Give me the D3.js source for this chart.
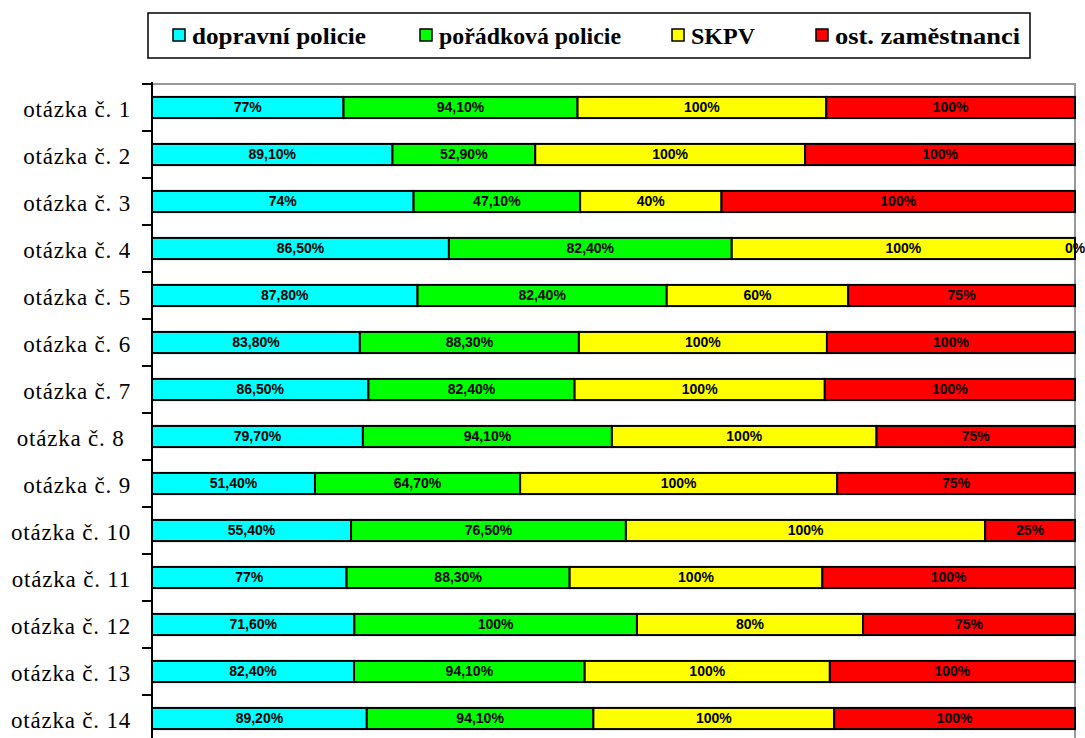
<!DOCTYPE html>
<html><head><meta charset="utf-8">
<script src="https://cdn.jsdelivr.net/npm/d3@7"></script>
<style>body{margin:0;background:#fff}svg{display:block}</style>
</head><body>
<svg id="c" width="1085" height="738"></svg>
<script>
const categories = ["otázka č. 1","otázka č. 2","otázka č. 3","otázka č. 4","otázka č. 5","otázka č. 6","otázka č. 7","otázka č. 8 ","otázka č. 9","otázka č. 10","otázka č. 11","otázka č. 12","otázka č. 13","otázka č. 14"];
const seriesNames = ["dopravní policie","pořádková policie","SKPV","ost. zaměstnanci"];
const seriesColors = ["#00FFFF","#00FF00","#FFFF00","#FF0000"];
const dopravni = [77, 89.1, 74, 86.5, 87.8, 83.8, 86.5, 79.7, 51.4, 55.4, 77, 71.6, 82.4, 89.2];
const poradkova = [94.1, 52.9, 47.1, 82.4, 82.4, 88.3, 82.4, 94.1, 64.7, 76.5, 88.3, 100, 94.1, 94.1];
const skpv = [100, 100, 40, 100, 60, 100, 100, 100, 100, 100, 100, 80, 100, 100];
const ostatni = [100, 100, 100, 0, 75, 100, 100, 75, 75, 25, 100, 75, 100, 100];
const seriesValues = [dopravni, poradkova, skpv, ostatni];

(function () {
// pick an installed serif face
function pickFont(cands, weight) {
  const ctx = document.createElement("canvas").getContext("2d");
  const s = "otázka SKPV WwMmIil 0123";
  const base = {};
  ["monospace", "sans-serif"].forEach(b => { ctx.font = `${weight} 40px ${b}`; base[b] = ctx.measureText(s).width; });
  for (const c of cands) {
    let ok = true;
    for (const b of ["monospace", "sans-serif"]) {
      ctx.font = `${weight} 40px "${c}", ${b}`;
      if (Math.abs(ctx.measureText(s).width - base[b]) < 0.01) ok = false;
    }
    if (ok) return `"${c}", serif`;
  }
  return "serif";
}
const cands = ["Liberation Serif", "Times New Roman", "Tinos", "Nimbus Roman", "DejaVu Serif", "Noto Serif"];
const serif = pickFont(cands, "normal");
const serifBold = pickFont(cands, "bold");

const svg = d3.select("#c");
const mLeft = 152, mRight = 1075, mTop = 84, mBottom = 742;

const rows = categories.map((c, i) => {
  const o = {cat: c};
  seriesNames.forEach((s, j) => o[s] = seriesValues[j][i]);
  return o;
});
const stack = d3.stack().keys(seriesNames).offset(d3.stackOffsetExpand);
const layers = stack(rows);

const x = d3.scaleLinear().domain([0, 1]).range([mLeft, mRight]);
const y = d3.scaleBand().domain(categories).range([mTop, mBottom]).paddingInner(0.55).paddingOuter(0.275);
const color = d3.scaleOrdinal().domain(seriesNames).range(seriesColors);

const fmt = v => (Number.isInteger(v) ? String(v) : v.toFixed(2).replace(".", ",")) + "%";

// plot border (top, right)
svg.append("path").attr("d", `M${mLeft},${mTop}H${mRight}V${mBottom}`)
  .attr("fill", "none").attr("stroke", "#999").attr("stroke-width", 2);

// bars
const g = svg.append("g");
layers.forEach((layer) => {
  const key = layer.key;
  g.selectAll(null).data(layer).join("rect")
    .attr("x", d => x(d[0]))
    .attr("y", d => y(d.data.cat))
    .attr("width", d => x(d[1]) - x(d[0]))
    .attr("height", y.bandwidth())
    .attr("fill", color(key))
    .attr("stroke", "#000").attr("stroke-width", 2);
});
layers.forEach((layer) => {
  const key = layer.key;
  g.selectAll(null).data(layer).join("text")
    .attr("x", d => x((d[0] + d[1]) / 2))
    .attr("y", d => y(d.data.cat) + y.bandwidth() / 2)
    .attr("dy", "0.34em")
    .attr("text-anchor", "middle")
    .attr("font-family", "'Liberation Sans', Arial, sans-serif")
    .attr("font-weight", "bold")
    .attr("font-size", 14)
    .attr("fill", "#000")
    .text(d => fmt(d.data[key]));
});

// left axis
const gap = y.step() - y.bandwidth();
svg.append("line").attr("x1", mLeft).attr("x2", mLeft).attr("y1", mTop - 2).attr("y2", mBottom)
  .attr("stroke", "#000").attr("stroke-width", 2);
const tickYs = categories.map(c => y(c) - gap / 2);
svg.selectAll(null).data(tickYs).join("line")
  .attr("x1", mLeft - 10).attr("x2", mLeft).attr("y1", d => d).attr("y2", d => d)
  .attr("stroke", "#000").attr("stroke-width", 2);
svg.selectAll(null).data(categories).join("text")
  .attr("x", 131)
  .attr("y", d => y(d) + y.bandwidth() / 2 + 9.5)
  .attr("text-anchor", "end")
  .style("white-space", "pre")
  .style("font-family", serif)
  .attr("font-size", 23)
  .attr("letter-spacing", "0.8")
  .attr("fill", "#000")
  .text(d => d);

// legend
const lg = svg.append("g");
lg.append("rect").attr("x", 148).attr("y", 13).attr("width", 882).attr("height", 45)
  .attr("fill", "#fff").attr("stroke", "#000").attr("stroke-width", 1.5);
const legX = [173, 420, 672, 816];
const legW = [174, 182, 64, 185];
seriesNames.forEach((s, i) => {
  lg.append("rect").attr("x", legX[i]).attr("y", 29).attr("width", 12).attr("height", 12)
    .attr("fill", color(s)).attr("stroke", "#000").attr("stroke-width", 1.5);
  lg.append("text").attr("x", legX[i] + 19).attr("y", 44)
    .style("font-family", serifBold)
    .style("font-weight", "bold")
    .attr("font-size", 24)
    .attr("textLength", legW[i]).attr("lengthAdjust", "spacingAndGlyphs")
    .attr("fill", "#000")
    .text(s);
});
})();
</script>
</body></html>
